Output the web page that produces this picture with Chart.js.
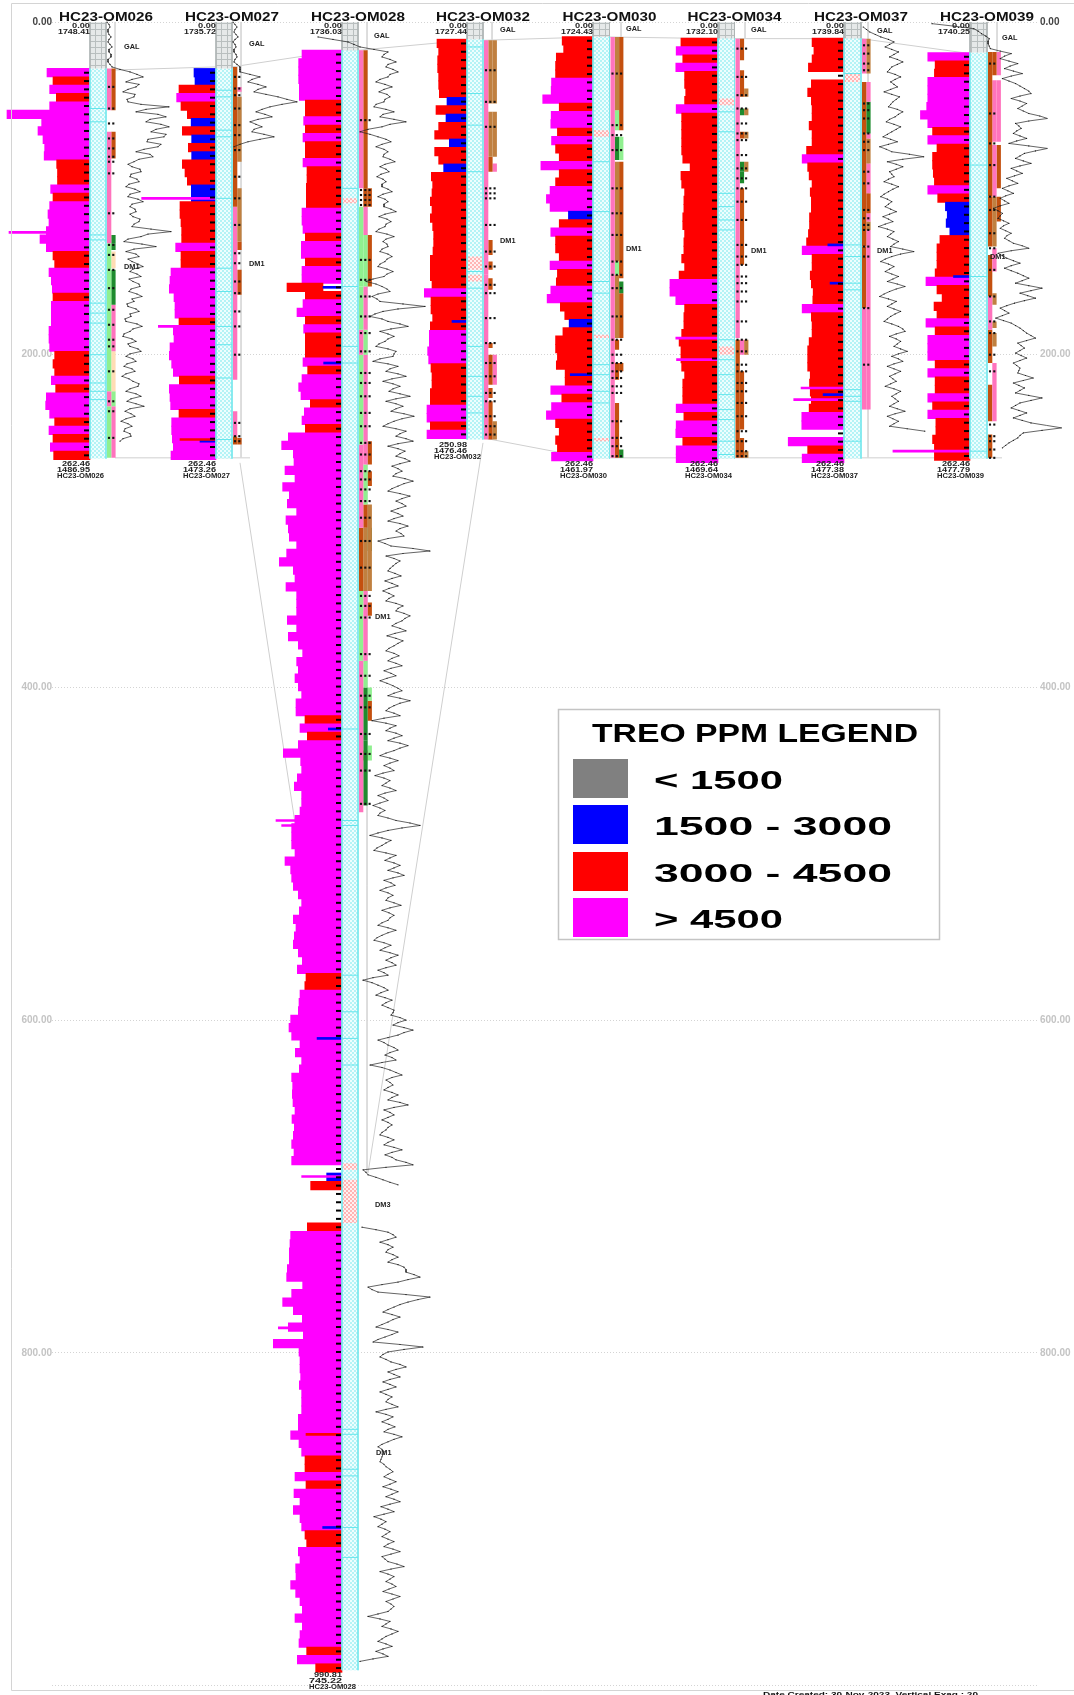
<!DOCTYPE html>
<html><head><meta charset="utf-8"><title>TREO PPM cross-section</title>
<style>html,body{margin:0;padding:0;background:#fff}canvas{display:block;filter:blur(.7px)}</style>
<script src="https://cdn.jsdelivr.net/npm/chart.js@4"></script></head><body>
<canvas id="c" width="1074" height="1695"></canvas>
<script>
const WELLS=["HC23-OM026","HC23-OM027","HC23-OM028","HC23-OM032","HC23-OM030","HC23-OM034","HC23-OM037","HC23-OM039"];
const COLLAR_ELEV=["1748.41","1735.72","1736.03","1727.44","1724.43","1732.10","1739.84","1740.25"];
const TD_LABEL=["262.46","262.46","990.81","250.98","262.46","262.46","262.46","262.46"];
const TD_ELEV=["1486.95","1473.26","745.22","1476.46","1461.97","1469.64","1477.38","1477.79"];
const TD_DEPTH=[262.46,262.46,990.81,250.98,262.46,262.46,262.46,262.46];
const GAL_BASE=[28,28,17,10.4,8.8,9.8,9.8,18.4];
const DEPTH_TICKS_STEP=200;
const LEGEND_TITLE="TREO PPM LEGEND";
const LEGEND_LABELS=["< 1500","1500 - 3000","3000 - 4500","> 4500"];
const LEGEND_COLORS=["#808080","#0000ff","#ff0000","#ff00ff"];

const TREO_OM026=[5160,4440,4840,4040,4840,9960,5800,6240,5640,5440,5500,4000,3900,3900,4720,4440,4840,5040,4920,5240,6000,5240,4440,4240,4920,4640,4520,4440,4640,4640,4640,4920,4920,4840,4240,4440,4240,4640,4120,5240,5320,4840,4240,4920,4440,4760,4360];
const TREO_OM027=[2640,2520,4440,4720,4200,3440,2980,4040,2920,3320,2920,4040,3720,3440,2960,2960,4320,4320,4200,4120,4120,4840,4200,4200,5400,5520,5600,5040,4920,4920,4440,5120,5040,5520,5600,5320,5120,4400,5600,5520,5440,4440,5320,5320,5240,5120,5400];
const TREO_OM028=[4800,5200,5200,5200,5120,5120,4400,4400,4600,4400,4680,4400,4400,4680,4200,4200,4280,4280,4280,4800,4800,4680,4400,4880,4880,4400,4800,4800,4320,4400,4680,5400,4400,4600,4400,4400,4400,4680,4120,4800,5200,4920,3800,4520,4800,4400,
6440,7240,5840,5760,6840,5640,7120,6320,6560,5440,6720,6440,6320,5440,6640,7520,5840,5640,6720,5440,5440,5440,6560,5440,6440,5240,4720,5440,5240,5640,5240,4840,5520,5520,4440,5040,
4160,5240,7040,4960,4840,5360,5720,4840,4840,5040,5640,6040,6040,6040,5640,6840,6160,6040,5840,5240,4840,5120,5840,5520,5720,5840,5240,4760,5360,4320,4460,5040,5160,5240,
6160,6360,6040,5040,5600,4840,5120,6040,5920,5960,5880,5640,6000,5720,5840,6040,5760,6040,null,1840,3760,null,null,null,null,4160,
6160,6240,6320,6320,6560,6640,4720,6040,7120,5840,4760,6440,4640,8240,
5160,5040,5040,4960,5120,4840,4840,4840,5240,5240,6160,5160,4840,4440,4440,5640,4320,5760,5040,5840,5040,4840,4440,4240,5240,5040,5560,5520,6160,5560,5040,4760,5640,4760,5040,5160,4240,5360,3160];
const TREO_OM032=[3600,3400,3520,3520,3400,3400,3320,2400,3720,2520,3400,3880,2120,3880,3400,2800,4280,4120,4200,4400,4200,4400,4120,4000,4000,4080,4400,4400,4400,4200,5120,4320,4320,4120,4400,4520,4520,4720,4600,4320,4200,4200,4400,4400,4800,4800,4400,4800];
const TREO_OM030=[3360,3200,4000,4080,4080,4520,4560,5480,3680,4560,4600,3880,4520,4080,3680,5680,3680,4080,4680,5080,4680,2680,3680,4600,4080,4080,3680,4680,3880,4000,4600,5000,3560,3080,2600,3280,4080,4080,3880,4000,3040,3040,4600,3400,4520,5080,4080,3680,4080,3880,4520];
const TREO_OM034=[4040,4560,3840,4600,3640,3640,3520,3640,4560,3960,3960,3960,3960,3960,3840,3040,4040,3960,3640,3720,3720,3840,3840,3640,3720,3720,3960,3640,4240,5240,5240,4600,3640,3720,3720,3960,4240,4040,4040,3960,3640,3840,3840,3840,4560,3720,4560,4600,3840,4560,4560];
const TREO_OM037=[3480,3280,3480,3880,null,3560,3960,3560,3480,3480,3800,3480,3480,4080,4560,3960,3800,3480,3680,3560,3560,3760,3760,3880,4080,4560,3480,3480,3680,3560,3360,3400,4560,3560,3480,3480,3800,3960,3960,3960,3680,3760,3680,3560,3800,4600,4600,null,6080,3960,4560];
const TREO_OM039=[4600,3800,3880,4600,4600,4600,4720,5400,4600,4080,4600,3600,4080,4080,4000,3880,4600,3520,2680,2480,2600,2200,3280,3600,3600,3600,3800,4800,3600,3040,3920,3600,4800,3800,4600,4600,4600,3800,4600,3800,3800,4600,4080,4600,3720,3720,4080,3880,3880];
const TREO=[TREO_OM026,TREO_OM027,TREO_OM028,TREO_OM032,TREO_OM030,TREO_OM034,TREO_OM037,TREO_OM039];

const THIN_DEPTH=[[126.5],[106,183,252,251],[159.5,205,425,480,483,611,694,785,849,905],[180],[212],[190,203],[134,157,220,224,227],[153,258]];
const THIN_PPM=[[9720],[8920,6920,1920,4320],[2280,2200,1640,7920,7240,2990,4840,7640,4320,2320],[1800],[2480],[4600,4520],[1760,1520,4680,2280,5480],[1800,8400]];

const GAMMA_START=[0,0,9,0,0,0,3,1];
const GAMMA_OM026=[1,3,4,2,2,3,5,3,2,4,6,3,3,5,5,2,2,4,6,14,24,31,37,26,20,33,30,22,17,29,28,21,22,35,63,40,30,52,60,44,40,55,63,50,45,60,58,42,41,55,52,38,30,44,47,33,28,22,26,34,35,25,24,31,33,23,20,29,34,24,22,32,37,26,24,29,30,24,27,34,33,28,26,45,65,42,35,22,18,36,50,28,20,30,33,22,26,32,37,27,24,31,35,23,27,33,34,25,23,31,36,26,28,21,22,30,33,24,25,19,20,31,36,27,24,18,17,26,30,22,24,32,35,24,20,27,30,21,18,26,29,20,16,23,27,33,32,24,20,30,35,25,21,30,38,24,19,25,29,20,15,22,26,19,18,24,25,17,14];
const GAMMA_OM027=[1,3,5,3,2,4,6,3,1,3,4,2,2,4,5,3,2,5,8,8,8,18,28,20,16,26,34,26,22,34,46,55,65,50,38,30,24,33,40,26,18,24,30,22,20,32,42,28,16,8,2];
const GAMMA_OM028=[-40,-25,-10,-4,2,16,30,26,24,32,38,30,28,35,40,32,30,22,18,27,34,26,21,29,32,27,26,18,16,28,36,25,22,36,48,32,24,10,2,12,20,28,33,24,18,26,30,26,25,32,37,27,22,28,31,23,19,25,28,24,24,30,34,25,20,27,30,26,26,33,38,27,21,29,33,28,27,21,18,29,36,28,25,29,30,24,22,30,34,29,27,22,20,29,35,29,26,15,8,18,24,29,32,20,14,19,22,45,67,40,25,17,12,24,30,42,50,33,22,30,36,30,27,21,18,30,38,36,35,22,15,30,40,32,28,40,48,34,25,35,42,35,31,42,52,38,28,38,45,38,33,46,56,44,36,30,25,38,48,42,38,48,55,40,30,40,47,42,38,47,52,42,34,40,44,38,35,47,55,46,40,34,30,42,52,44,38,44,48,40,33,40,45,36,30,42,50,42,38,43,46,30,20,27,33,55,72,45,28,36,42,38,35,32,30,37,43,34,27,34,40,31,25,31,36,31,28,38,45,40,38,46,52,47,44,38,34,42,48,37,29,38,45,40,36,31,28,36,41,34,30,38,44,33,26,33,38,29,22,29,35,40,44,36,30,42,52,42,36,31,28,36,42,26,14,28,38,32,28,38,44,36,30,42,50,42,36,28,22,32,40,32,26,32,36,25,17,26,32,28,24,32,38,27,20,26,30,22,15,22,27,22,20,30,38,52,62,44,30,20,12,24,33,28,24,19,16,28,38,32,27,36,42,36,30,40,46,35,26,33,37,28,22,30,35,30,28,36,43,32,24,31,36,32,30,24,20,30,38,30,24,19,16,26,33,27,22,32,40,33,28,34,38,28,20,26,30,15,5,14,20,26,30,23,18,27,34,28,24,30,36,35,33,42,48,40,35,46,55,46,40,30,20,26,30,36,40,32,27,34,38,24,12,24,32,38,44,34,28,32,35,30,26,34,40,34,30,42,50,36,26,32,36,30,24,30,34,30,28,24,22,30,36,30,26,36,44,34,27,34,38,48,55,28,5,8,10,18,25,32,40,null,null,null,null,null,null,null,null,null,null,null,null,null,null,null,null,4,18,30,35,38,30,22,30,35,30,28,35,40,34,30,40,46,48,48,56,62,50,40,24,10,14,20,48,72,60,50,42,36,30,25,34,42,35,30,24,18,30,40,34,27,20,15,42,65,46,30,25,22,28,33,42,48,38,30,36,42,32,25,32,38,30,22,28,34,30,28,34,40,28,18,28,35,30,24,31,37,30,26,36,44,36,30,24,20,24,26,25,24,23,22,26,28,32,35,30,26,32,38,32,25,33,40,34,28,36,42,32,23,30,36,26,16,23,28,24,20,27,32,28,24,30,36,30,26,35,42,33,24,27,30,39,46,33,22,30,36,32,28,34,38,31,25,34,42,35,28,33,36,33,30,20,10,22,32,28,24,33,40,34,28,24,20,28,34,25,18,25,30,15,2];
const GAMMA_OM037=[2,5,8,13,18,25,30,26,22,28,34,30,26,33,38,33,28,26,24,31,36,31,27,30,33,27,21,28,35,32,29,27,25,33,38,34,31,26,23,30,36,32,28,24,20,27,33,25,17,23,28,44,57,38,24,32,38,32,26,28,30,25,21,28,34,29,25,21,18,24,28,25,22,27,32,26,20,25,29,22,16,24,30,27,24,29,34,30,27,38,48,36,28,22,18,25,30,26,22,28,34,29,24,33,40,32,26,21,17,25,32,28,24,30,36,31,27,24,21,28,34,38,40,32,26,32,36,33,30,36,42,34,28,34,38,30,24,30,36,31,26,29,32,27,22,30,36,32,28,31,34,30,26,33,40,31,24,29,34,30,26,42,58];
const GAMMA_OM039=[-50,-30,-12,-8,-5,-1,2,1,1,2,3,12,22,16,12,20,28,21,16,24,32,22,14,20,26,30,34,38,40,30,22,30,36,32,28,33,38,48,55,38,26,29,31,27,24,30,36,27,20,38,55,44,34,30,26,33,40,30,22,27,32,25,18,23,28,20,14,19,24,17,12,16,20,12,6,10,14,12,10,15,20,15,12,17,22,18,16,20,24,32,38,22,10,14,18,24,30,22,16,22,28,33,38,32,26,38,50,40,30,37,44,34,25,18,12,16,20,14,8,15,22,26,30,33,36,40,44,36,28,31,34,30,26,31,36,30,24,27,30,29,28,35,42,33,24,29,34,30,26,38,50,40,30,26,22,29,36,30,24,32,40,54,68,50,33,30,28,24,20,17,14];
const GAMMA=[GAMMA_OM026,GAMMA_OM027,GAMMA_OM028,null,null,null,GAMMA_OM037,GAMMA_OM039];
const GAMMA_STEP=1.5;

const CORE_LINES=[[52,60,128,131,169,175,181,200,217,222,227],[41,45,65,69,106,148,162,183,194,214,251],[100,159,195,205,425,480,483,573,595,611,627,846,849,870,874,905,923],[15,43,62,90,150,160,195,213,225,235],[84,114,156,163,206,212,222,229],[54,66,103,111,119,125,191,203,212,224,233,239,252,260],[31,134,141,157,161,221,225,228,252],[86,153,258]];
const HATCH_ZONES=[[],[],[[106,109],[686,690],[696,722]],[[141,149],[152,156]],[[65,69],[188,190],[250,252]],[[46,50],[195,200]],[[31,36]],[]];
const ASSAY_MARKS=[[39,52,61,70,76,81,84,91,115,134,140,149,160,173,182,191,195,210,228,234,250],[33,40,44,52,62,68,77,93,106,122,139,145,156,163,174,183,200,241,249,252],[59,101,104,107,110,143,155,165,177,187,198,211,217,225,235,243,253,260,270,275,281,288,298,312,328,345,351,358,380,393,405,412,428,440,450,470],[29,48,63,100,103,106,122,138,147,158,163,178,193,205,213,223,228,237,243,248],[31,62,68,77,100,115,128,144,152,160,177,191,200,205,210,214,219,223,240,250,255,261],[16,33,44,52,61,67,71,80,88,94,100,108,119,134,141,146,153,157,162,168,180,191,198,206,210,217,222,229,237,246,252,258,261],[14,19,25,29,49,53,58,67,72,77,90,97,113,118,122,125,135,141,172,206],[25,55,73,86,105,113,127,136,149,165,180,187,200,210,242,249,252,257,262]];
const ALT_COLORS={P:"#ff73bd",B:"#c4500f",T:"#c08040",G:"#90f090",D:"#1e8b2e",C:"#ffdcb4"};
const ALT_OM026=[[0,28,53,"P"],[1,28,53,"B"],[0,66,133,"P"],[1,66,82,"B"],[1,128,133,"D"],[0,133,222,"G"],[1,133,137,"D"],[1,138,148,"C"],[1,149,170,"D"],[1,170,198,"P"],[1,198,222,"C"],[0,222,231,"P"],[1,222,231,"G"],[0,231,262,"G"],[1,231,262,"P"]];
const ALT_OM027=[[0,27,111,"B"],[1,39,42,"P"],[1,45,84,"T"],[1,100,132,"T"],[0,111,215,"P"],[1,132,137,"B"],[1,149,164,"B"],[0,234,249,"P"],[0,249,254,"B"],[1,250,254,"B"]];
const ALT_OM028=[[0,17,100,"P"],[1,17,100,"B"],[1,100,111,"B"],[2,100,111,"B"],[0,111,159,"G"],[1,111,128,"P"],[1,128,159,"G"],[2,128,159,"B"],[0,159,185,"G"],[1,159,185,"P"],[0,185,200,"P"],[1,185,200,"G"],[0,200,254,"G"],[1,200,252,"P"],[0,254,304,"P"],[1,252,266,"P"],[2,252,266,"B"],[1,266,290,"G"],[2,270,279,"B"],[1,290,304,"B"],[2,290,318,"T"],[0,304,342,"B"],[1,304,342,"T"],[2,304,318,"D"],[2,318,342,"T"],[0,342,354,"G"],[1,342,384,"P"],[2,349,357,"B"],[0,354,384,"G"],[0,384,475,"P"],[1,384,400,"G"],[1,400,432,"D"],[2,400,408,"G"],[2,408,420,"B"],[1,432,471,"D"],[2,435,444,"G"],[1,438,444,"B"]];
const ALT_OM032=[[0,11,152,"P"],[1,11,49,"T"],[2,11,49,"T"],[1,54,81,"T"],[2,54,81,"T"],[1,81,90,"B"],[2,85,90,"P"],[1,131,140,"B"],[1,144,149,"B"],[1,154,161,"B"],[0,152,251,"P"],[1,193,196,"B"],[1,200,218,"B"],[2,200,218,"P"],[1,220,226,"B"],[1,228,251,"B"],[2,240,251,"T"]];
const ALT_OM030=[[0,9,262,"P"],[1,9,53,"T"],[1,53,65,"G"],[2,9,65,"B"],[1,69,83,"D"],[2,69,83,"G"],[1,84,144,"T"],[2,84,154,"B"],[1,144,152,"G"],[1,152,190,"T"],[2,156,163,"D"],[2,163,190,"B"],[1,191,197,"B"],[1,205,215,"B"],[2,205,210,"B"],[1,229,255,"B"],[1,253,262,"B"],[2,257,262,"D"]];
const ALT_OM034=[[0,10,190,"P"],[1,10,23,"B"],[1,29,45,"B"],[2,40,45,"T"],[1,52,56,"D"],[2,52,56,"T"],[1,66,70,"B"],[2,66,70,"T"],[1,84,90,"D"],[2,84,90,"T"],[1,90,97,"D"],[1,100,146,"B"],[0,191,262,"B"],[1,191,200,"P"],[2,191,200,"T"],[1,210,245,"B"],[1,250,262,"B"],[2,258,262,"T"]];
const ALT_OM037=[[0,10,31,"P"],[1,10,31,"T"],[0,36,135,"B"],[1,36,48,"P"],[1,48,67,"D"],[1,67,70,"P"],[1,70,85,"T"],[1,85,103,"P"],[1,103,115,"B"],[1,115,120,"P"],[1,120,125,"T"],[1,125,233,"P"],[0,135,172,"B"],[0,172,233,"P"]];
const ALT_OM039=[[0,18,105,"B"],[1,18,32,"B"],[2,18,32,"P"],[1,35,72,"P"],[2,35,72,"P"],[1,74,105,"P"],[2,74,100,"B"],[0,105,135,"B"],[1,105,135,"T"],[2,105,120,"B"],[1,136,150,"P"],[0,140,165,"B"],[0,165,185,"P"],[1,163,170,"T"],[1,180,184,"T"],[1,187,195,"T"],[0,185,205,"B"],[1,205,240,"P"],[0,218,240,"B"],[0,248,262,"B"]];
const ALTERATION=[ALT_OM026,ALT_OM027,ALT_OM028,ALT_OM032,ALT_OM030,ALT_OM034,ALT_OM037,ALT_OM039];

const CORE_LEFT=[90,216,342,467,593,718,844,970];
const CORE_WIDTH=[16,16,16,16,16.5,16.5,17,17];
const PPM_PER_PX=[120,120,120,120,109,109,109,109];
const GAMMA_GAIN=[1,1,1,1,1.1,1.1,1.1,1.1];
const ASSAY_COLS=[2,2,3,3,3,3,2,2];
const CORR_GAL=[[107,29],[216,27],[232,27],[342,17],[358,17],[467,11],[483,11],[593,9],[609,9],[718,10],[734,10],[844,10],[861,10],[970,19]];
const CORR_DM_L=[[240,265],[347,686]];
const CORR_DM_R=[[483,253],[368,692]];
const CORR_A=[[483,250],[553,258],[593,262]];
const CORR_B=[[115,262],[250,262]];
const CORR_C=[[551,262],[1002,262]];
const FRAME_X=[115,241,367,492,621,745,868,997];
const FRAME_BOTTOM=[28,262,692,11,9,10,262,18];

const GAL_X=[124,249,374,500,626,751,877,1002];
const GAL_Y=[47,44,36,30,29,30,31,38];
const UNIT_X=[[124],[249],[375,376],[500],[626],[751],[877],[990]];
const UNIT_Y=[[266],[263],[616,1452],[240],[248],[250],[250],[256]];
const DM3_LABEL={x:375,y:1204};
const FOOTER="Date Created: 30-Nov-2023, Vertical Exag.: 20";

// ---------------------------------------------------------------
const AREA_L=52, AREA_R=1039, W=AREA_R-AREA_L;
function colorFor(v){return v<1500?LEGEND_COLORS[0]:v<3000?LEGEND_COLORS[1]:v<4500?LEGEND_COLORS[2]:LEGEND_COLORS[3];}
function pat(size,paint){const c=document.createElement('canvas');c.width=c.height=size;const g=c.getContext('2d');paint(g);return g.createPattern(c,'repeat');}
const corePat=pat(4,g=>{g.fillStyle='#eefefe';g.fillRect(0,0,4,4);g.fillStyle='#b4f3f6';g.fillRect(0,0,2,2);g.fillRect(2,2,2,2);});
const galPat=pat(6,g=>{g.fillStyle='#e6e9e9';g.fillRect(0,0,6,6);g.fillStyle='#b9bfbf';g.fillRect(0,5,6,1);g.fillRect(5,0,1,6);});
const hatchPat=pat(4,g=>{g.fillStyle='#fff0f0';g.fillRect(0,0,4,4);g.fillStyle='#ffb4b4';g.fillRect(0,0,2,2);g.fillRect(2,2,2,2);});

const depthTicks={stepSize:DEPTH_TICKS_STEP,autoSkip:false,font:{family:'Liberation Sans',size:10,weight:'bold'},
  color:c=>c.tick.value===0?'#444':'#c4c4c4',callback:v=>v>=1000?'':Number(v).toFixed(2)};
const scales={
 y:{type:'linear',position:'left',min:0,max:1000,reverse:true,offset:false,afterFit(s){s.width=AREA_L;},
    border:{display:false,dash:[1,2]},
    grid:{offset:false,drawTicks:false,lineWidth:1,color:'rgba(0,0,0,.17)'},
    ticks:Object.assign({padding:0},depthTicks)},
 yR:{type:'linear',position:'right',min:0,max:1000,reverse:true,offset:false,afterFit(s){s.width=1074-AREA_R;},
    border:{display:false},grid:{display:false,drawTicks:false},
    ticks:Object.assign({padding:1},depthTicks)},
 x:{type:'linear',display:false,min:AREA_L,max:AREA_R}
};
const datasets=[];
const lineSet=(pts,color,width,order,extra)=>datasets.push(Object.assign({type:'scatter',indexAxis:'x',xAxisID:'x',yAxisID:'y',showLine:true,data:pts.map(p=>({x:p[0],y:p[1]})),borderColor:color,borderWidth:width,pointRadius:0,clip:false,order,borderCapStyle:'butt'},extra||{}));

[CORR_GAL,CORR_DM_L,CORR_DM_R,CORR_A,CORR_B,CORR_C].forEach(c=>lineSet(c,'#cfcfcf',1,20));

WELLS.forEach((name,i)=>{
  const c=CORE_LEFT[i], cw=CORE_WIDTH[i], cr=c+cw, cx=c+cw/2, ppx=PPM_PER_PX[i];
  scales['xT'+i]={type:'linear',display:false,reverse:true,min:-(AREA_R-c)*ppx,max:(c-AREA_L)*ppx};
  lineSet([[FRAME_X[i],0],[FRAME_X[i],FRAME_BOTTOM[i]]],'#d8d8d8',1,19);
  const bars=[];TREO[i].forEach((v,k)=>{if(v!==null)bars.push({x:v,y:GAL_BASE[i]+5*k+2.5});});
  const barBase={type:'bar',indexAxis:'y',xAxisID:'xT'+i,yAxisID:'y',stack:'w',clip:false,borderWidth:0,backgroundColor:ctx=>colorFor(ctx.raw.x)};
  datasets.push(Object.assign({},barBase,{label:name,data:bars,barThickness:8.6,order:10}));
  datasets.push(Object.assign({},barBase,{label:name+' thin',data:THIN_DEPTH[i].map((d,k)=>({x:THIN_PPM[i][k],y:d})),barThickness:2,order:8}));
  lineSet([[cx,0],[cx,GAL_BASE[i]]],galPat,cw,9);
  lineSet([[cx,GAL_BASE[i]],[cx,TD_DEPTH[i]]],corePat,cw,9);
  lineSet([[c,GAL_BASE[i]],[c,TD_DEPTH[i]]],'#7be9ee',1,7);
  lineSet([[cr,GAL_BASE[i]],[cr,TD_DEPTH[i]]],'#7be9ee',1,7);
  lineSet([[c,0],[c,GAL_BASE[i]]],'#aeb4b4',1,7);
  lineSet([[cr,0],[cr,GAL_BASE[i]]],'#aeb4b4',1,7);
  HATCH_ZONES[i].forEach(z=>lineSet([[cx,z[0]],[cx,z[1]]],hatchPat,cw,8));
  ALTERATION[i].forEach(a=>{const x=cr+1+a[0]*4.3+2.15;lineSet([[x,a[1]],[x,a[2]]],ALT_COLORS[a[3]],4.3,9);});
  const pointSet=(pts,style,r,color,bw,order)=>datasets.push({type:'scatter',indexAxis:'x',xAxisID:'x',yAxisID:'y',showLine:false,data:pts,pointStyle:style,pointRadius:r,pointBorderColor:color,pointBackgroundColor:color,pointBorderWidth:bw,clip:false,order});
  pointSet(CORE_LINES[i].map(d=>({x:cx,y:d})),'line',cw/2,'#64e6ec',1,6);
  const dashes=[];for(let d=GAL_BASE[i]+2.5;d<TD_DEPTH[i];d+=5)dashes.push({x:c-3.5,y:d});
  pointSet(dashes,'line',2.5,'#000',2,3);
  const dots=[];ASSAY_MARKS[i].forEach(d=>{for(let k=0;k<ASSAY_COLS[i];k++)dots.push({x:cr+3+k*4.3,y:d});});
  pointSet(dots,'rect',1.5,'#111',0,2);
  if(GAMMA[i]){
    const span=W/GAMMA_GAIN[i], lo=(AREA_L-cr)/GAMMA_GAIN[i];
    scales['xG'+i]={type:'linear',display:false,min:lo,max:lo+span};
    datasets.push({type:'scatter',indexAxis:'x',xAxisID:'xG'+i,yAxisID:'y',showLine:true,clip:false,order:1,
      data:GAMMA[i].map((v,k)=>({x:v===null?NaN:v,y:GAMMA_START[i]+GAMMA_STEP*k})),borderColor:'#222',borderWidth:.7,pointRadius:.6,pointBackgroundColor:'#111',pointBorderWidth:0,spanGaps:false});
  }
});

function st(ctx,text,x,y,font,targetW,align,color){
  ctx.save();ctx.font=font;ctx.fillStyle=color||'#000';ctx.textBaseline='alphabetic';ctx.textAlign='left';
  const w=ctx.measureText(text).width, sx=targetW?targetW/w:1, tw=w*sx;
  const x0=align==='right'?x-tw:align==='center'?x-tw/2:x;
  ctx.translate(x0,y);ctx.scale(sx,1);ctx.fillText(text,0,0);ctx.restore();
}
const F='"Liberation Sans"';
const annotate={id:'annotate',afterDraw(chart){
  const ctx=chart.ctx, Y=chart.scales.y;
  ctx.save();ctx.strokeStyle='#d4d4d4';ctx.lineWidth=1;ctx.beginPath();ctx.moveTo(1074,3.5);ctx.lineTo(11.5,3.5);ctx.lineTo(11.5,1690.5);ctx.lineTo(1074,1690.5);ctx.stroke();ctx.restore();
  WELLS.forEach((n,i)=>{
    const c=CORE_LEFT[i],cr=c+CORE_WIDTH[i];
    st(ctx,n,cr,21,`bold 12px ${F}`,94,'center','#111');
    st(ctx,'0.00',c,28,`bold 7px ${F}`,18,'right','#222');
    st(ctx,COLLAR_ELEV[i],c,34,`bold 7px ${F}`,32,'right','#222');
    const by=Y.getPixelForValue(TD_DEPTH[i]);
    st(ctx,TD_LABEL[i],c,by+7,`bold 7px ${F}`,28,'right','#222');
    st(ctx,TD_ELEV[i],c,by+13,`bold 7px ${F}`,33,'right','#222');
    st(ctx,n,c-33,by+19,`bold 7px ${F}`,47,'left','#222');
    st(ctx,'GAL',GAL_X[i],GAL_Y[i]+2,`bold 7px ${F}`,15.5,'left','#222');
    UNIT_X[i].forEach((x,k)=>st(ctx,'DM1',x,UNIT_Y[i][k]+2.5,`bold 7px ${F}`,15.5,'left','#222'));
  });
  st(ctx,'DM3',DM3_LABEL.x,DM3_LABEL.y+2.5,`bold 7px ${F}`,15.5,'left','#222');
  st(ctx,FOOTER,763,1697,`bold 8px ${F}`,215,'left','#111');
  ctx.save();ctx.fillStyle='#fff';ctx.fillRect(558.5,709.5,381,230);ctx.strokeStyle='#c4c4c4';ctx.lineWidth=1.5;ctx.strokeRect(558.5,709.5,381,230);
  const sy=[759,805,852,898], ty=[789,835,882,928], tw=[129,238,238,129];
  LEGEND_COLORS.forEach((col,k)=>{ctx.fillStyle=col;ctx.fillRect(573,sy[k],55,39);});
  ctx.restore();
  st(ctx,LEGEND_TITLE,592,742,`bold 25px ${F}`,326,'left','#000');
  LEGEND_LABELS.forEach((t,k)=>st(ctx,t,654,ty[k],`bold 25px ${F}`,tw[k],'left','#000'));
}};

new Chart(document.getElementById('c'),{type:'bar',data:{datasets},plugins:[annotate],options:{
  responsive:false,animation:false,devicePixelRatio:1,indexAxis:'y',events:[],
  layout:{padding:{top:22,bottom:5,left:0,right:0}},
  plugins:{legend:{display:false},tooltip:{enabled:false},title:{display:false}},
  scales
}});
</script></body></html>
